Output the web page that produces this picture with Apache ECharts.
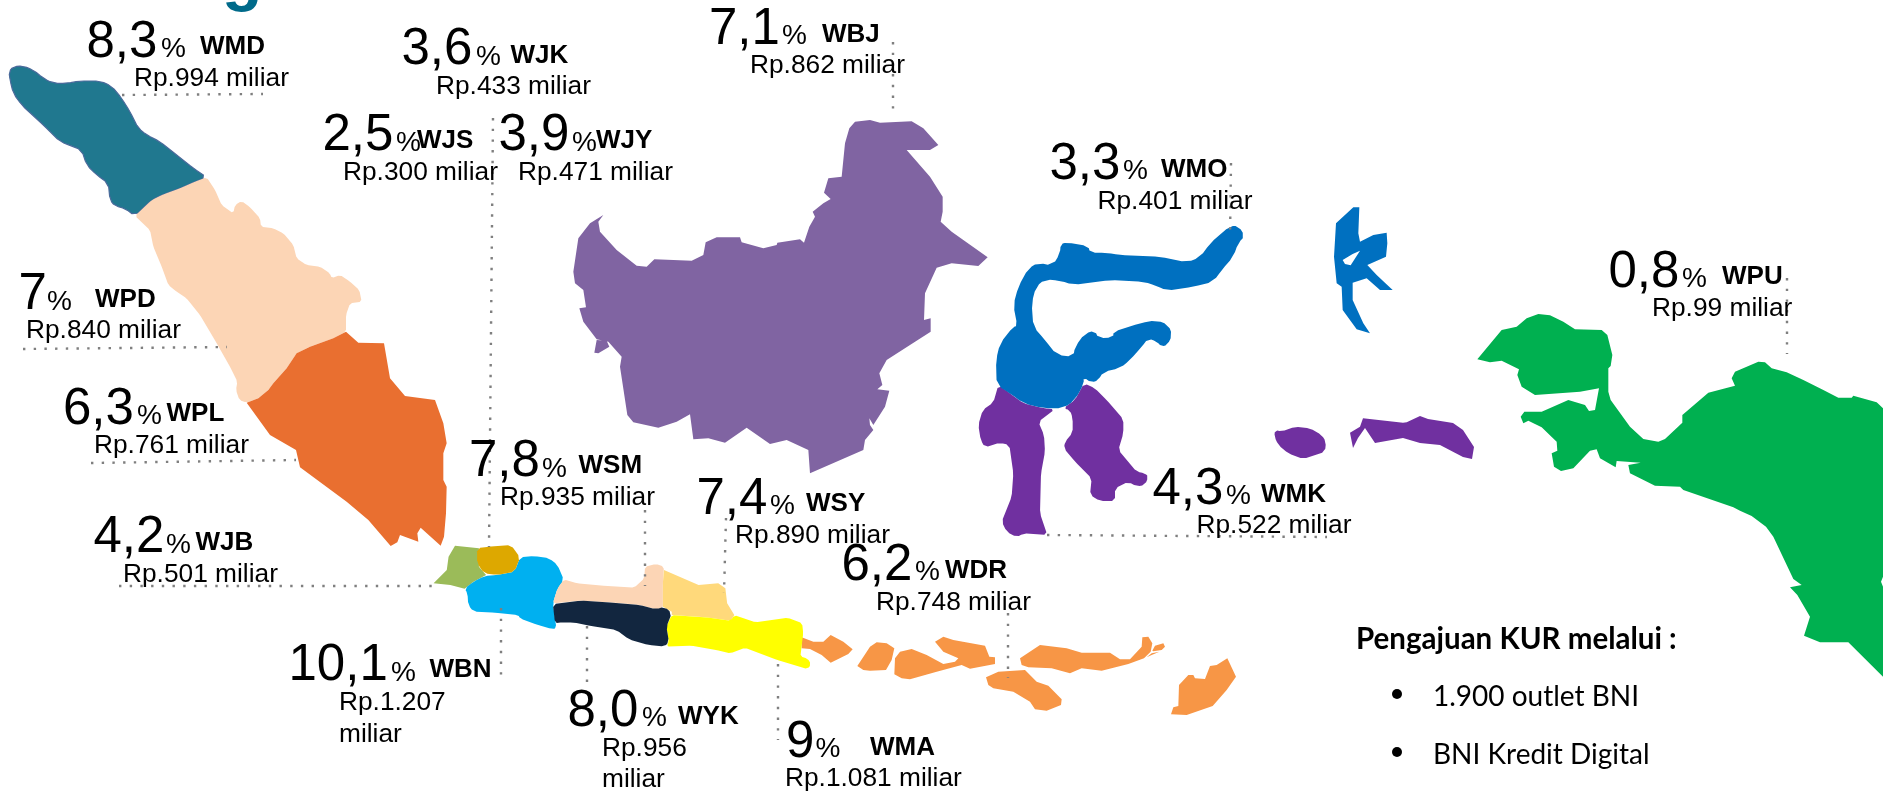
<!DOCTYPE html>
<html><head><meta charset="utf-8">
<style>html,body{margin:0;padding:0;background:#fff}#c{width:1883px;height:794px}</style>
<script src="https://cdn.jsdelivr.net/npm/echarts@6/dist/echarts.min.js"></script>
</head><body><div id="c"></div>
<script>
// ---------- chart values ----------
const regionCodes = ['WMD','WJK','WJS','WJY','WPD','WPL','WJB','WBN','WSM','WSY','WDR','WYK','WMA','WBJ','WMO','WMK','WPU'];
const shareLabels = ['8,3','3,6','2,5','3,9','7','6,3','4,2','10,1','7,8','7,4','6,2','8,0','9','7,1','3,3','4,3','0,8'];
const amountLabels = ['Rp.994 miliar','Rp.433 miliar','Rp.300 miliar','Rp.471 miliar','Rp.840 miliar','Rp.761 miliar','Rp.501 miliar','Rp.1.207','Rp.935 miliar','Rp.890 miliar','Rp.748 miliar','Rp.956','Rp.1.081 miliar','Rp.862 miliar','Rp.401 miliar','Rp.522 miliar','Rp.99 miliar'];
const amountSecondLine = {WBN:'miliar', WYK:'miliar'};
const noteTitle = 'Pengajuan KUR melalui :';
const noteItems = ['1.900 outlet BNI','BNI Kredit Digital'];

// ---------- map outlines (traced, reference pixels) ----------
const crop=(ox,oy,sx,sy,p)=>p.map(q=>[ox+q[0]/sx,794-(oy+q[1]/sy)]);
// softens a traced corner over a few pixels, for coasts that are rounded in the reference
const soft=(ring,r=4)=>{
  const out=[],n=ring.length;
  for(let i=0;i<n;i++){
    const a=ring[(i+n-1)%n],b=ring[i],c=ring[(i+1)%n];
    const cut=(u,v)=>{const l=Math.hypot(v[0]-u[0],v[1]-u[1])||1,d=Math.min(r,l/3)/l;return [u[0]+(v[0]-u[0])*d,u[1]+(v[1]-u[1])*d];};
    out.push(cut(b,a),cut(b,c));
  }
  return out;
};
const z1=p=>crop(0,0,3,3,p), z3=p=>crop(420,500,2.8,3,p), z4=p=>crop(540,0,3,3,p), z5=p=>crop(960,120,3,3,p), z6=p=>crop(1400,240,3,3,p), z7=p=>crop(780,580,3,3,p), px=p=>crop(0,0,1,1,p);

const outlines = {
 WMD:[soft(z1([[27,215],[40,200],[70,198],[100,210],[130,235],[160,250],[200,250],[240,243],[300,243],[335,258],[365,295],[390,335],[415,385],[440,405],[480,425],[530,465],[580,505],[620,532],[585,545],[540,565],[490,583],[455,600],[405,648],[375,625],[345,618],[330,600],[325,550],[290,525],[260,495],[245,450],[215,438],[180,425],[130,375],[65,315],[40,280],[30,240]]))],
 WPD:[soft(z1([[405,648],[455,600],[490,583],[540,565],[585,545],[620,532],[645,570],[665,615],[700,640],[705,615],[725,603],[750,622],[780,655],[783,680],[820,685],[850,700],[880,735],[890,775],[920,795],[960,800],[990,820],[995,835],[1020,825],[1050,845],[1078,870],[1085,905],[1050,910],[1038,945],[1038,995],[1000,1015],[930,1040],[890,1060],[860,1105],[820,1150],[805,1170],[775,1195],[740,1208],[718,1200],[708,1170],[712,1145],[690,1100],[650,1030],[600,945],[560,895],[530,875],[505,855],[485,800],[460,740],[450,690]]),2)],
 WPL:[z1([[1038,995],[1075,1028],[1152,1030],[1170,1135],[1215,1188],[1305,1200],[1330,1270],[1340,1330],[1330,1360],[1330,1440],[1340,1460],[1338,1540],[1332,1610],[1322,1637],[1262,1583],[1252,1600],[1255,1625],[1200,1605],[1192,1627],[1172,1638],[1105,1560],[1040,1505],[900,1402],[888,1350],[810,1305],[740,1208],[775,1195],[805,1170],[820,1150],[860,1105],[890,1060],[930,1040],[1000,1015]])],
 WDR:[
  z7([[65,172],[100,185],[130,185],[152,165],[190,185],[218,208],[205,222],[152,248],[125,225],[90,207],[65,205]]),
  z7([[232,258],[270,200],[290,187],[320,190],[343,205],[335,240],[318,270],[270,272],[250,270]]),
  z7([[345,235],[360,215],[395,207],[440,225],[490,252],[525,245],[535,235],[490,215],[465,185],[490,170],[520,180],[615,197],[628,230],[645,232],[645,252],[570,266],[545,255],[470,275],[390,298],[365,295],[343,283]]),
  z7([[720,235],[780,195],[860,205],[905,218],[990,218],[1020,238],[1050,238],[1085,200],[1087,172],[1105,170],[1117,190],[1112,215],[1092,235],[1045,252],[965,272],[905,265],[870,280],[815,265],[745,262],[725,255]]),
  z7([[618,292],[655,275],[735,270],[770,305],[805,317],[845,358],[843,375],[800,392],[765,388],[750,365],[700,335],[640,325],[625,315]]),
  z7([[1117,212],[1125,197],[1150,190],[1155,200],[1145,210],[1120,214]]),
  z7([[1100,232],[1115,220],[1138,215],[1115,225]]),
  z7([[1173,403],[1180,382],[1195,378],[1197,315],[1225,285],[1240,285],[1245,295],[1275,297],[1290,258],[1310,255],[1342,235],[1368,290],[1340,330],[1298,378],[1220,405]])
 ],
 WJB:[z3([[38,250],[75,210],[80,170],[98,137],[165,145],[165,200],[185,225],[150,245],[125,266],[85,255]])],
 WBN:[soft(z3([[125,266],[150,245],[180,228],[215,225],[265,215],[280,172],[320,168],[362,175],[385,195],[403,240],[385,265],[372,310],[382,385],[370,387],[330,375],[280,355],[275,345],[210,338],[150,335],[135,315],[133,280]]),3)],
 WJS:[soft(z3([[160,145],[190,140],[255,135],[280,172],[265,215],[215,225],[180,220],[160,190]]),3)],
 WSM:[soft(z3([[403,238],[440,250],[520,258],[600,263],[628,235],[630,200],[660,192],[683,200],[680,250],[680,325],[660,328],[615,315],[540,308],[450,302],[372,310],[385,265]]),2)],
 WSY:[z3([[683,210],[780,255],[835,250],[855,265],[860,310],[880,345],[870,362],[800,352],[705,345],[705,335],[680,320],[680,250]])],
 WMA:[soft(z3([[705,345],[800,352],[870,362],[880,345],[940,367],[1030,353],[1070,370],[1073,400],[1065,470],[1085,475],[1095,493],[1085,507],[1000,480],[910,443],[870,460],[830,450],[760,437],[690,440],[697,425],[690,380]]),2)],
 WYK:[soft(z3([[372,312],[450,302],[540,308],[615,315],[660,328],[685,320],[705,340],[690,380],[697,425],[685,440],[640,435],[585,418],[550,390],[480,378],[430,367],[385,368],[378,370]]),3)],
 WBJ:[
  z4([[190,645],[175,665],[180,695],[230,750],[290,797],[320,800],[343,778],[400,780],[455,782],[490,765],[497,727],[530,712],[600,712],[605,727],[670,745],[710,735],[712,728],[780,718],[792,728],[808,680],[825,650],[818,635],[850,610],[872,597],[852,578],[865,535],[905,530],[915,430],[928,385],[945,365],[990,360],[1020,368],[1115,364],[1150,385],[1195,435],[1170,450],[1100,450],[1170,530],[1208,590],[1208,635],[1202,665],[1235,695],[1343,772],[1315,798],[1235,790],[1190,803],[1155,880],[1152,960],[1172,955],[1172,995],[1110,1035],[1040,1080],[1018,1120],[1027,1155],[1012,1168],[1048,1172],[1035,1220],[1000,1275],[988,1255],[990,1275],[1000,1290],[975,1320],[970,1350],[810,1420],[805,1350],[740,1320],[690,1332],[620,1283],[555,1328],[505,1315],[460,1318],[450,1243],[410,1265],[355,1283],[280,1267],[262,1245],[240,1100],[245,1070],[205,1025],[170,1018],[130,965],[118,925],[138,922],[130,870],[105,850],[100,815],[115,715],[150,670]]),
  z4([[170,1020],[200,1022],[208,1040],[175,1060],[163,1058]])
 ],
 WMK:[
  soft(z5([[115,795],[150,820],[190,850],[250,865],[285,868],[235,905],[252,945],[255,995],[243,1060],[240,1180],[262,1245],[190,1240],[170,1252],[140,1235],[125,1205],[155,1130],[160,1060],[148,975],[120,968],[75,982],[62,960],[55,915],[68,870],[100,848]]),3),
  soft(z5([[310,865],[345,840],[372,790],[405,805],[440,840],[490,898],[490,940],[475,990],[530,1055],[555,1060],[565,1070],[555,1095],[530,1100],[505,1085],[465,1105],[465,1143],[420,1143],[390,1125],[395,1075],[345,1025],[312,985],[315,965],[338,938],[338,895],[330,870]]),3),
  soft(z5([[945,930],[965,935],[1005,920],[1050,925],[1085,945],[1098,965],[1095,995],[1030,1017],[985,1000],[955,975],[943,950]]),3),
  px([[1350,432.7],[1360,426.7],[1363,418.3],[1403,422.7],[1406.7,422.3],[1420,416],[1428,419],[1453,423],[1463,430],[1474,447],[1472,459],[1463,457],[1440,445],[1420,443],[1403,438],[1375,443],[1365,428],[1358,438],[1353,448]])
 ],
 WMO:[
  soft(z5([[110,795],[108,720],[120,670],[160,620],[172,618],[160,555],[175,500],[205,445],[235,428],[278,437],[300,400],[302,372],[320,367],[385,378],[390,398],[440,398],[480,405],[600,410],[680,427],[720,412],[750,370],[810,318],[835,318],[855,348],[835,368],[820,410],[785,450],[760,485],[700,500],[620,512],[590,498],[550,485],[450,480],[340,495],[300,482],[255,478],[228,500],[215,550],[220,620],[255,660],[290,705],[340,710],[345,680],[375,640],[405,632],[415,655],[460,652],[460,635],[540,610],[590,600],[625,615],[637,645],[622,675],[605,680],[590,665],[565,655],[545,680],[510,720],[480,745],[430,755],[415,780],[395,788],[370,772],[372,790],[345,840],[310,865],[250,865],[190,850],[150,820]]),5)
 ],
 WPU:[
  z6([[232,358],[305,270],[350,260],[380,235],[415,222],[450,226],[490,245],[525,268],[605,270],[622,285],[637,345],[632,378],[625,385],[625,455],[632,480],[690,560],[730,597],[775,605],[795,597],[847,548],[847,525],[925,458],[1005,437],[995,415],[1005,395],[1075,365],[1095,367],[1115,385],[1160,397],[1210,420],[1270,450],[1315,473],[1355,473],[1360,467],[1430,487],[1449,505],[1449,1010],[1443,1025],[1449,1040],[1449,1310],[1345,1207],[1260,1207],[1212,1187],[1230,1130],[1192,1065],[1170,1042],[1205,1035],[1180,1017],[1120,890],[1098,860],[1055,828],[1020,812],[1000,802],[850,750],[840,740],[765,737],[690,700],[685,675],[722,668],[650,663],[647,682],[600,655],[590,628],[570,632],[520,685],[483,693],[462,680],[455,640],[472,632],[470,605],[425,562],[385,542],[370,550],[362,530],[373,515],[425,515],[505,480],[555,495],[567,513],[585,510],[597,445],[540,455],[405,465],[365,440],[352,405],[357,388],[305,362],[270,367]])
 ]
};
// Halmahera carries a hole, so it is kept apart from the plain rings above.
const halmahera = [
  z5([[1180,262],[1198,262],[1195,340],[1200,365],[1240,345],[1280,338],[1282,370],[1278,410],[1222,435],[1250,465],[1298,510],[1260,510],[1220,475],[1178,488],[1178,540],[1210,610],[1230,640],[1190,628],[1148,570],[1145,500],[1130,490],[1122,410],[1128,310]]),
  z5([[1155,432],[1172,436],[1200,392],[1178,402],[1148,420]])
];

const regionColors = {WMD:'#20788F',WPD:'#FCD5B5',WPL:'#E96F30',WDR:'#F79646',WJB:'#9BBB59',WBN:'#00B0F0',WJS:'#DDA800',WSM:'#FCD5B5',WSY:'#FFD97B',WMA:'#FFFF00',WYK:'#12263F',WBJ:'#8064A2',WMK:'#7030A0',WMO:'#0070C0',WPU:'#00B050'};

const geoFeatures = Object.keys(outlines).map(code=>{
  const polys = outlines[code].map(r=>[r]);
  if(code==='WMO') polys.push(halmahera);
  return {type:'Feature',properties:{name:code},geometry:{type:'MultiPolygon',coordinates:polys}};
});
echarts.registerMap('kur',{type:'FeatureCollection',features:geoFeatures});

// ---------- text placement: [left x, baseline y] in reference pixels ----------
const textPlaces = {
 WMD:{num:[86.5,58],pct:[161,58],code:[200,55],amt:[134,86.7]},
 WJK:{num:[401.5,65.7],pct:[476,65.7],code:[510.5,63.3],amt:[436,95]},
 WJS:{num:[322.5,151.7],pct:[396,151.7],code:[417,149],amt:[343,181]},
 WJY:{num:[498.5,151.7],pct:[572,151.7],code:[596,149],amt:[518,181]},
 WPD:{num:[18.5,310.7],pct:[47,310.7],code:[95,307.3],amt:[26,339]},
 WPL:{num:[63,425],pct:[137,425],code:[166.5,421.7],amt:[94,453.3]},
 WJB:{num:[93.5,553.3],pct:[166,553.3],code:[195.5,550.7],amt:[123,582.7]},
 WBN:{num:[288.5,681.7],pct:[391,681.7],code:[429.5,678],amt:[339,710.7],amt2:[339,742.7]},
 WSM:{num:[469,477.3],pct:[542,477.3],code:[578.5,474],amt:[500,506]},
 WSY:{num:[696.5,515],pct:[770,515],code:[806,511.7],amt:[735,544]},
 WDR:{num:[841.5,581],pct:[915,581],code:[945,579],amt:[876,610.7]},
 WYK:{num:[567.5,727],pct:[642,727],code:[678,725],amt:[602,756.7],amt2:[602,788]},
 WMA:{num:[786,758],pct:[815.5,758],code:[870,755.7],amt:[785,787]},
 WBJ:{num:[709,45],pct:[782,45],code:[822,42.3],amt:[750,74]},
 WMO:{num:[1049.5,180],pct:[1123,180],code:[1161,177.7],amt:[1097.5,210]},
 WMK:{num:[1152.5,505],pct:[1226,505],code:[1261,502.7],amt:[1196.5,534]},
 WPU:{num:[1608.5,288],pct:[1682,288],code:[1722,285],amt:[1652,316.7]}
};
// dotted leader lines: [x1,y1,x2,y2]
const leaderPlaces = {
 WMD:[122,95,263,94],WPD:[23,349,227,347],WJS:[493,118,489,547],WPL:[91,463,296,460],WJB:[119,586,440,586],
 WBN:[501,608,501,683],WYK:[587,626,587,682],WSM:[645,510,645,586],WSY:[726,518,724,593],WMA:[778,664,778,740],
 WDR:[1008,613,1008,678],WBJ:[893,42,893,117],WMO:[1231,163,1230,238],WMK:[1047,535,1327,537],WPU:[1787,278,1787,354]
};

const SANS='"Liberation Sans",Arial,sans-serif';
const midRatio=0.30; // baseline to label middle
function textSeries(items,size,weight,color,family){
  return {type:'scatter',coordinateSystem:'geo',geoIndex:0,symbolSize:0,silent:true,animation:false,z:5,
    data:items.map(t=>({name:t[0],value:[t[1],794-(t[2]-midRatio*size)]})),
    label:{show:true,position:'inside',align:'left',verticalAlign:'middle',formatter:p=>p.name,opacity:1,
      fontFamily:family||SANS,fontSize:size,fontWeight:weight,color:color,padding:0},
    labelLayout:{hideOverlap:false}};
}
const numItems=[],pctItems=[],codeItems=[],amtItems=[];
regionCodes.forEach((c,i)=>{
  const p=textPlaces[c];
  numItems.push([shareLabels[i],p.num[0],p.num[1]]);
  pctItems.push(['%',p.pct[0],p.pct[1]]);
  codeItems.push([c,p.code[0],p.code[1]]);
  amtItems.push([amountLabels[i],p.amt[0],p.amt[1]]);
  if(p.amt2) amtItems.push([amountSecondLine[c],p.amt2[0],p.amt2[1]]);
});

const chart=echarts.init(document.getElementById('c'),null,{renderer:'canvas',width:1883,height:794});
chart.setOption({
  animation:false,backgroundColor:'#fff',tooltip:{show:false},
  geo:{map:'kur',left:0,top:0,width:1883,height:794,aspectScale:1,boundingCoords:[[0,794],[1883,0]],roam:false,silent:true,
    label:{show:false},emphasis:{disabled:true},select:{disabled:true},
    itemStyle:{borderWidth:0,borderColor:'transparent'},
    regions:Object.keys(regionColors).map(c=>({name:c,
      itemStyle:c==='WMD'?{areaColor:regionColors[c],borderColor:'#4A6A9B',borderWidth:1.2}:{areaColor:regionColors[c],borderWidth:0}}))},
  series:[
    {type:'map',geoIndex:0,silent:true,animation:false,
      data:regionCodes.map((c,i)=>({name:c,value:parseFloat(shareLabels[i].replace(',','.'))}))},
    {type:'lines',coordinateSystem:'geo',geoIndex:0,silent:true,animation:false,z:4,
      lineStyle:{color:'#7F7F7F',width:2.4,type:[2.4,8.3],opacity:1,curveness:0},
      data:Object.keys(leaderPlaces).map(c=>{const l=leaderPlaces[c];return {name:c,coords:[[l[0],794-l[1]],[l[2],794-l[3]]]};})},
    textSeries(numItems,51,'normal','#000'),
    textSeries(pctItems,28,'normal','#000'),
    textSeries(codeItems,26,'bold','#000'),
    textSeries(amtItems,26.3,'normal','#000'),
    textSeries([['g',222,0]],66,'bold','#006A8A'),
    textSeries([[noteTitle,1356,648]],29.5,'bold','#000','Lato'),
    textSeries([[noteItems[0],1433,705.7],[noteItems[1],1433,763]],28,'normal','#000','Lato'),
    {type:'scatter',coordinateSystem:'geo',geoIndex:0,symbol:'circle',symbolSize:10,silent:true,animation:false,
      itemStyle:{color:'#000',opacity:1},data:[{name:noteItems[0],value:[1397,794-694]},{name:noteItems[1],value:[1397,794-752]}]}
  ]
});
</script></body></html>
